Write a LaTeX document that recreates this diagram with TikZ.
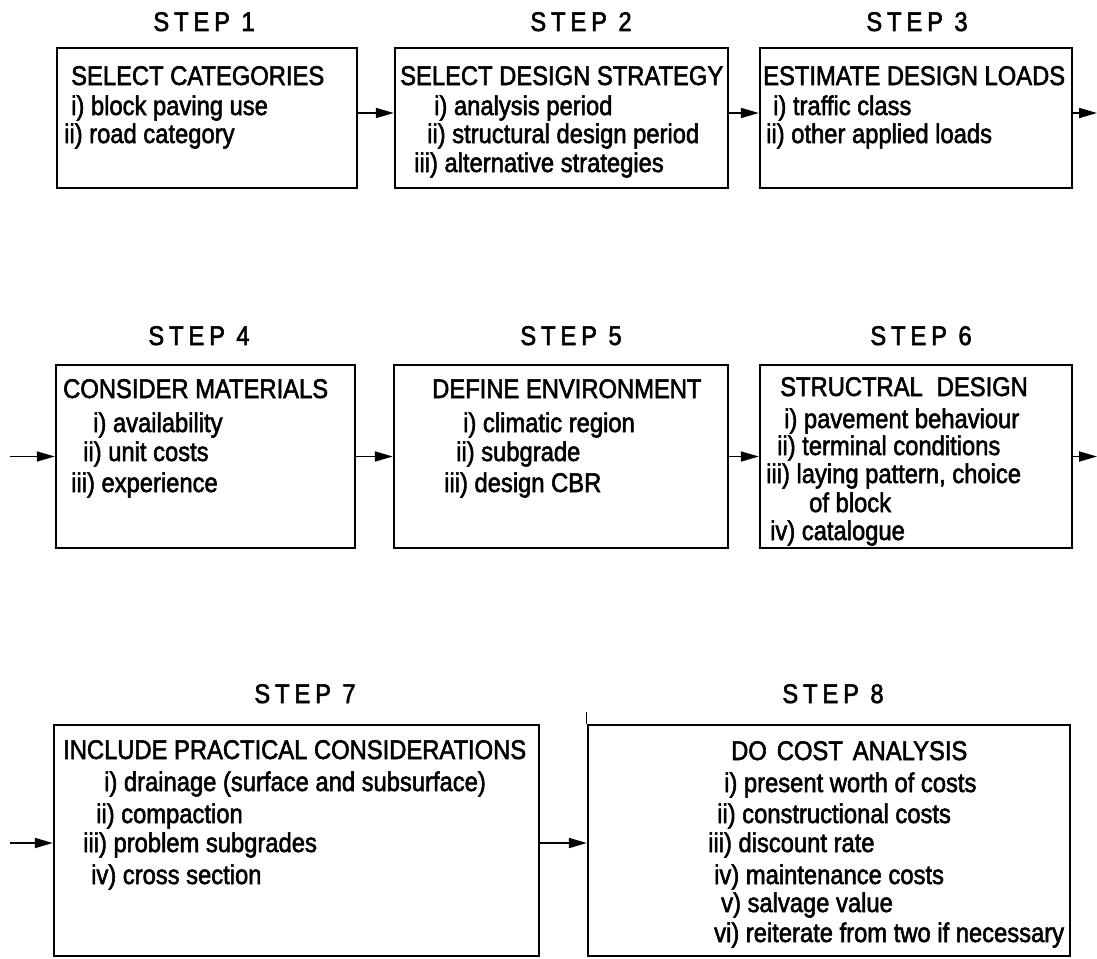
\documentclass[tikz,border=0pt]{standalone}
\usepackage{fontspec}
\setmainfont{Liberation Sans}[FakeStretch=0.88,FakeBold=2]
\newfontfamily\stepfont{Liberation Sans}[FakeStretch=0.88,FakeBold=2,LetterSpace=18]
\usetikzlibrary{arrows.meta}
\begin{document}
\begin{tikzpicture}[x=1pt,y=-1pt,
  every node/.style={font=\fontsize{27}{30}\selectfont},
  box/.style={draw, line width=2.4pt, inner sep=0pt},
  txt/.style={anchor=base west, inner sep=0pt},
  lbl/.style={anchor=base, inner sep=0pt, font=\fontsize{27}{30}\stepfont},
  arr/.style={line width=1.8pt, -{Triangle[length=18pt,width=10pt]}}]
\useasboundingbox (0,0) rectangle (1097,958);

% step labels
\node[lbl] (s1) at (204,31) {STEP 1};
\node[lbl] (s2) at (581,31) {STEP 2};
\node[lbl] (s3) at (917,31) {STEP 3};
\node[lbl] (s4) at (199,345) {STEP 4};
\node[lbl] (s5) at (571,345) {STEP 5};
\node[lbl] (s6) at (921,345) {STEP 6};
\node[lbl] (s7) at (305,703) {STEP 7};
\node[lbl] (s8) at (833,703) {STEP 8};

% boxes
\node[box, minimum width=300pt, minimum height=140pt] (b1) at (207,118) {};
\node[box, minimum width=333pt, minimum height=140pt] (b2) at (561.5,118) {};
\node[box, minimum width=312pt, minimum height=140pt] (b3) at (916,118) {};
\node[box, minimum width=299pt, minimum height=183pt] (b4) at (205.5,456.5) {};
\node[box, minimum width=334pt, minimum height=183pt] (b5) at (561,456.5) {};
\node[box, minimum width=312pt, minimum height=183pt] (b6) at (916,456.5) {};
\node[box, minimum width=485pt, minimum height=231pt] (b7) at (296.5,840.5) {};
\node[box, minimum width=482pt, minimum height=231pt] (b8) at (829,840.5) {};

% box 1
\node[txt] (b1t) at (71,85) {SELECT CATEGORIES};
\node[txt] (b1a) at (71,115) {i) block paving use};
\node[txt] (b1b) at (64,143) {ii) road category};
% box 2
\node[txt] (b2t) at (400,85) {SELECT DESIGN STRATEGY};
\node[txt] (b2a) at (434,115) {i) analysis period};
\node[txt] (b2b) at (427,143) {ii) structural design period};
\node[txt] (b2c) at (414,172) {iii) alternative strategies};
% box 3
\node[txt] (b3t) at (763,85) {ESTIMATE DESIGN LOADS};
\node[txt] (b3a) at (773,115) {i) traffic class};
\node[txt] (b3b) at (766,143) {ii) other applied loads};
% box 4
\node[txt] (b4t) at (63,398) {CONSIDER MATERIALS};
\node[txt] (b4a) at (93,432) {i) availability};
\node[txt] (b4b) at (83,461) {ii) unit costs};
\node[txt] (b4c) at (71,492) {iii) experience};
% box 5
\node[txt] (b5t) at (432,398) {DEFINE ENVIRONMENT};
\node[txt] (b5a) at (463,432) {i) climatic region};
\node[txt] (b5b) at (456,461) {ii) subgrade};
\node[txt] (b5c) at (444,492) {iii) design CBR};
% box 6
\node[txt] (b6t) at (780,396) {STRUCTRAL\hspace{14pt}DESIGN};
\node[txt] (b6a) at (784,428) {i) pavement behaviour};
\node[txt] (b6b) at (777,455) {ii) terminal conditions};
\node[txt] (b6c) at (766,483) {iii) laying pattern, choice};
\node[txt] (b6d) at (809,512) {of block};
\node[txt] (b6e) at (770,540) {iv) catalogue};
% box 7
\node[txt] (b7t) at (63,759) {INCLUDE PRACTICAL CONSIDERATIONS};
\node[txt] (b7a) at (104,791) {i) drainage (surface and subsurface)};
\node[txt] (b7b) at (96,823) {ii) compaction};
\node[txt] (b7c) at (83,852) {iii) problem subgrades};
\node[txt] (b7d) at (91,884) {iv) cross section};
% box 8
\node[txt] (b8t) at (731,760) {DO\hspace{10pt}COST\hspace{10pt}ANALYSIS};
\node[txt] (b8a) at (724,792) {i) present worth of costs};
\node[txt] (b8b) at (717,823) {ii) constructional costs};
\node[txt] (b8c) at (708,852) {iii) discount rate};
\node[txt] (b8d) at (714,884) {iv) maintenance costs};
\node[txt] (b8e) at (721,912) {v) salvage value};
\node[txt] (b8f) at (714,942) {vi) reiterate from two if necessary};

% free ends
\coordinate (o3) at (1097,113);
\coordinate (i4) at (10,456.5);
\coordinate (o6) at (1097,456.5);
\coordinate (i7) at (10,843);

% connectors
\draw[arr] ([yshift=5pt]b1.east) -- ([yshift=5pt]b2.west);
\draw[arr] ([yshift=5pt]b2.east) -- ([yshift=5pt]b3.west);
\draw[arr] ([yshift=5pt]b3.east) -- (o3);
\draw[arr] (i4) -- (b4.west);
\draw[arr] (b4.east) -- (b5.west);
\draw[arr] (b5.east) -- (b6.west);
\draw[arr] (b6.east) -- (o6);
\draw[arr] (i7) -- ([yshift=-2.5pt]b7.west);
\draw[arr] ([yshift=-2.5pt]b7.east) -- ([yshift=-2.5pt]b8.west);
\draw[line width=1pt] (b8.north west) -- ++(0,-12);
\end{tikzpicture}
\end{document}
